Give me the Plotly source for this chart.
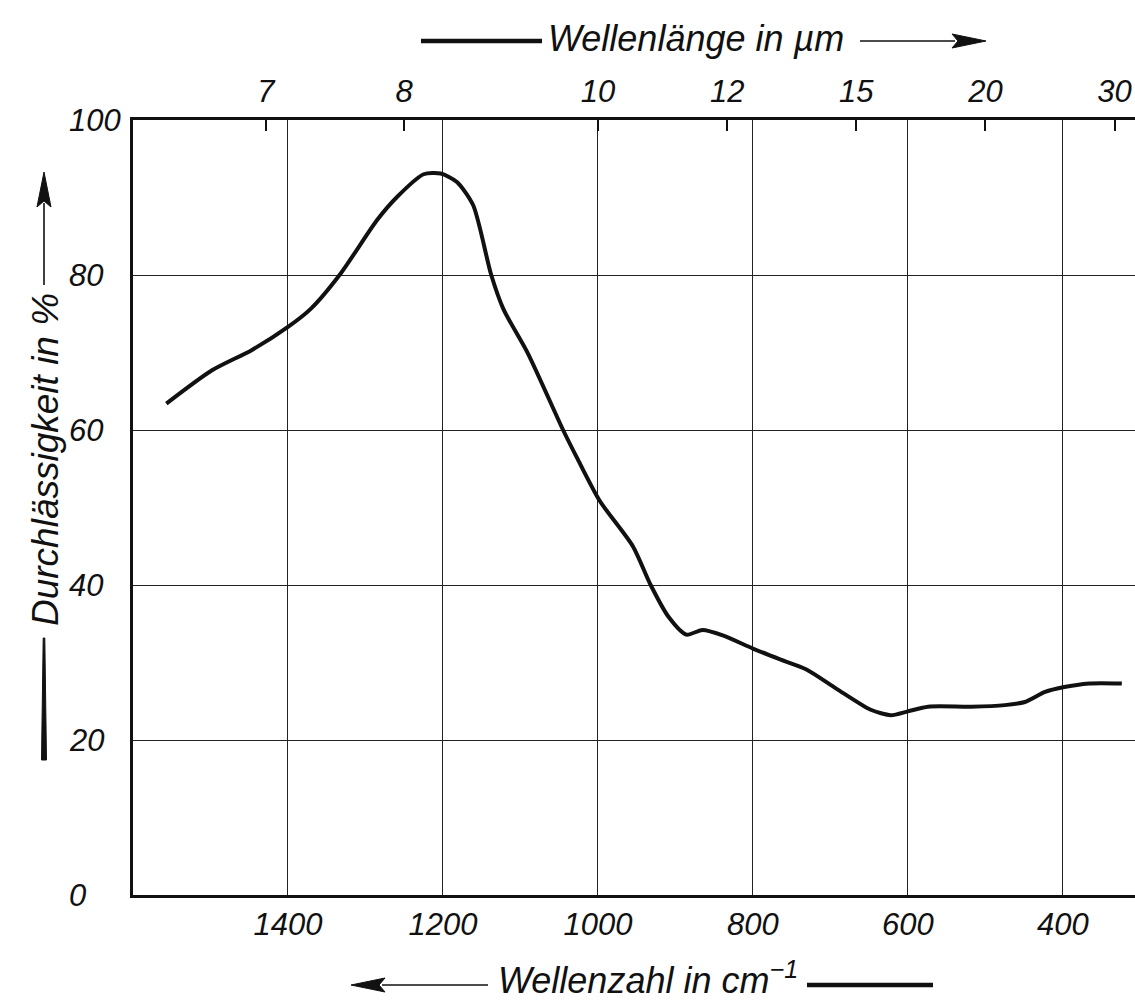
import plotly.graph_objects as go

# ---- data ----
wavenumber = [1557, 1498, 1447, 1400, 1370, 1332, 1285, 1259, 1225, 1203, 1182, 1161,
              1138, 1122, 1090, 1045, 1027, 998, 955, 932, 909, 886, 865, 839, 800,
              765, 731, 692, 648, 622, 600, 574, 518, 475, 449, 423, 400, 366, 324]
transmission = [63.4, 67.7, 70.3, 73.3, 75.7, 80.2, 87.1, 90.1, 93.0, 93.1, 92.0, 89.0,
                 80.1, 75.6, 69.8, 60.0, 56.4, 50.9, 45.0, 40.0, 35.9, 33.6, 34.2, 33.5, 31.8,
                 30.4, 29.1, 26.6, 23.9, 23.2, 23.7, 24.3, 24.3, 24.5, 24.9, 26.2, 26.8, 27.3, 27.3]

bottom_ticks = [1400, 1200, 1000, 800, 600, 400]
top_wavelengths = [7, 8, 10, 12, 15, 20, 30]
y_ticks = [0, 20, 40, 60, 80, 100]

x_range = [1600, 307]
y_range = [0, 100]

W, H = 1135, 1007
ML, MR, MT, MB = 133, 0, 120, 112
PW, PH = W - ML - MR, H - MT - MB

FONT = "Liberation Sans, Arial, sans-serif"
INK = "#111111"


def px(xp):
    return (xp - ML) / PW


def py(yp):
    return (H - MB - yp) / PH


def poly(points):
    return "M " + " L ".join(f"{px(a):.5f},{py(b):.5f}" for a, b in points) + " Z"


fig = go.Figure()
fig.add_trace(go.Scatter(
    x=wavenumber, y=transmission, mode="lines",
    line=dict(color=INK, width=4, shape="spline", smoothing=0.7),
    hoverinfo="skip", showlegend=False))
fig.add_trace(go.Scatter(
    x=wavenumber, y=transmission, mode="lines", xaxis="x2",
    line=dict(color="rgba(0,0,0,0)", width=0),
    hoverinfo="skip", showlegend=False))

top_vals = [10000 / w for w in top_wavelengths]

fig.update_layout(
    width=W, height=H,
    margin=dict(l=ML, r=MR, t=MT, b=MB),
    paper_bgcolor="white", plot_bgcolor="white",
    xaxis=dict(
        range=x_range, tickvals=bottom_ticks, ticktext=[str(v) for v in bottom_ticks],
        showgrid=True, gridcolor="#222222", gridwidth=1.3,
        showline=True, linecolor=INK, linewidth=3,
        ticks="", zeroline=False, ticklabelstandoff=0,
        tickfont=dict(family=FONT, size=31, color=INK, style="italic"),
    ),
    xaxis2=dict(
        range=x_range, overlaying="x", side="top", anchor="y",
        tickvals=top_vals, ticktext=[str(v) for v in top_wavelengths],
        showgrid=False, showline=True, linecolor=INK, linewidth=3,
        ticks="inside", ticklen=11, tickwidth=1.6, tickcolor=INK,
        zeroline=False, ticklabelstandoff=3,
        tickfont=dict(family=FONT, size=31, color=INK, style="italic"),
    ),
    yaxis=dict(
        range=y_range, tickvals=y_ticks, showticklabels=False,
        showgrid=True, gridcolor="#222222", gridwidth=1.3,
        showline=True, linecolor=INK, linewidth=3,
        ticks="", zeroline=False,
    ),
)

annotations = []
# y tick labels, left aligned like the hand lettering
for v in y_ticks:
    annotations.append(dict(
        x=px(67), xref="paper", y=v, yref="y", text=str(v), showarrow=False,
        xanchor="left", yanchor="middle",
        font=dict(family=FONT, size=31, color=INK, style="italic")))

# axis titles
annotations.append(dict(
    x=px(696), y=py(38), xref="paper", yref="paper", text="Wellenlänge in µm",
    showarrow=False, xanchor="center", yanchor="middle",
    font=dict(family=FONT, size=36, color=INK, style="italic")))
annotations.append(dict(
    x=px(648), y=py(978), xref="paper", yref="paper", text="Wellenzahl in cm<sup>−1</sup>",
    showarrow=False, xanchor="center", yanchor="middle",
    font=dict(family=FONT, size=36, color=INK, style="italic")))
annotations.append(dict(
    x=px(45), y=py(460), xref="paper", yref="paper", text="Durchlässigkeit in %",
    showarrow=False, textangle=-90, xanchor="center", yanchor="middle",
    font=dict(family=FONT, size=37, color=INK, style="italic")))

fig.update_layout(annotations=annotations)

# arrows and thick pen strokes accompanying the titles
line_style = dict(color=INK, width=1.6)
shapes = [
    # top: thick stroke, then arrow to the right
    dict(type="line", xref="paper", yref="paper", x0=px(421), x1=px(542), y0=py(41), y1=py(41),
         line=dict(color=INK, width=4.5)),
    dict(type="line", xref="paper", yref="paper", x0=px(860), x1=px(955), y0=py(41), y1=py(41),
         line=line_style),
    dict(type="path", xref="paper", yref="paper",
         path=poly([(986, 41), (952, 34), (958, 41), (952, 48)]),
         fillcolor=INK, line=dict(color=INK, width=1)),
    # bottom: arrow to the left, then thick stroke
    dict(type="line", xref="paper", yref="paper", x0=px(382), x1=px(488), y0=py(985), y1=py(985),
         line=line_style),
    dict(type="path", xref="paper", yref="paper",
         path=poly([(351, 985), (385, 978), (379, 985), (385, 992)]),
         fillcolor=INK, line=dict(color=INK, width=1)),
    dict(type="line", xref="paper", yref="paper", x0=px(807), x1=px(933), y0=py(985), y1=py(985),
         line=dict(color=INK, width=4.5)),
    # left: arrow upward, thick stroke below the text
    dict(type="line", xref="paper", yref="paper", x0=px(44), x1=px(44), y0=py(203), y1=py(285),
         line=line_style),
    dict(type="path", xref="paper", yref="paper",
         path=poly([(44, 172), (37, 207), (44, 201), (51, 207)]),
         fillcolor=INK, line=dict(color=INK, width=1)),
    dict(type="path", xref="paper", yref="paper",
         path=poly([(43.2, 638), (44.8, 638), (46.5, 760), (41.5, 760)]),
         fillcolor=INK, line=dict(color=INK, width=1)),
]
fig.update_layout(shapes=shapes)

fig.write_html("out.html")
